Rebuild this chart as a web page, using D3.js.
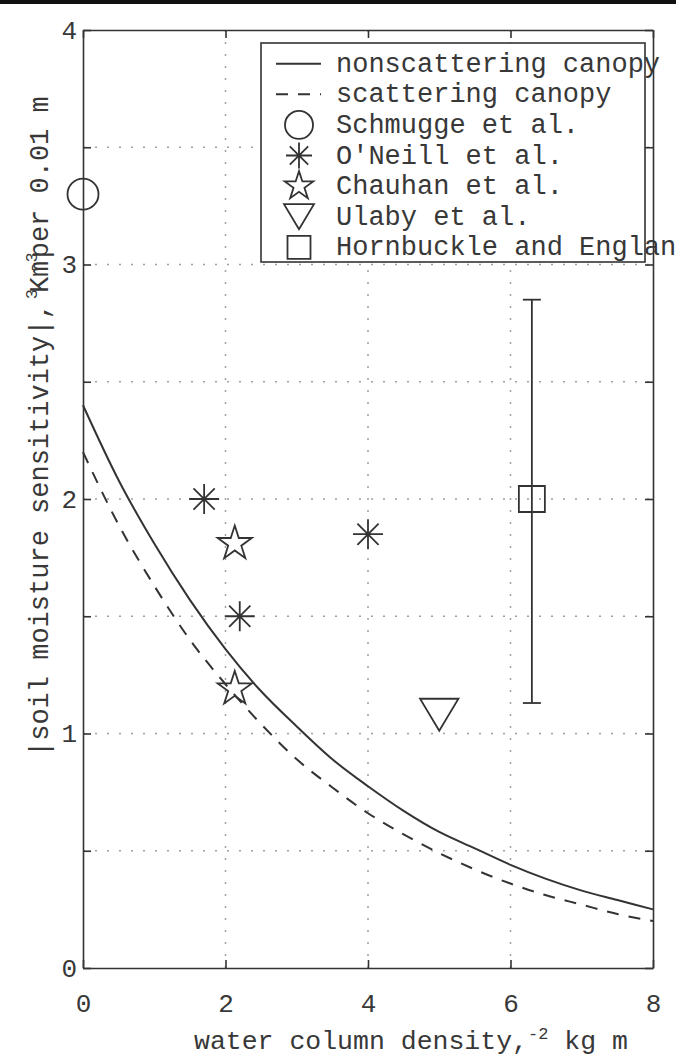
<!DOCTYPE html>
<html>
<head>
<meta charset="utf-8">
<script src="https://cdn.jsdelivr.net/npm/d3@7"></script>
<style>
  html, body { margin: 0; padding: 0; background: #ffffff; }
  svg { display: block; }
  text { font-family: "Liberation Mono", "DejaVu Sans Mono", monospace; fill: #383838; }
</style>
</head>
<body>
<svg id="chart" width="676" height="1057"></svg>
<script>
// ---------- data ----------
const xTickValues = [0, 2, 4, 6, 8];
const yTickValues = [0, 0.5, 1, 1.5, 2, 2.5, 3, 3.5, 4];
const yGridValues = [0.5, 1, 1.5, 2, 2.5, 3, 3.5];
const xGridValues = [2, 4, 6];

const curveX        = [0, 0.5, 1, 1.5, 2, 2.5, 3, 3.5, 4, 4.5, 5, 5.5, 6, 6.5, 7, 7.5, 8];
const nonscattering = [2.40, 2.08, 1.81, 1.57, 1.36, 1.18, 1.03, 0.89, 0.775, 0.67, 0.58, 0.51, 0.44, 0.38, 0.33, 0.29, 0.25];
const scattering    = [2.20, 1.89, 1.63, 1.40, 1.21, 1.04, 0.89, 0.77, 0.66, 0.57, 0.49, 0.42, 0.36, 0.31, 0.27, 0.23, 0.20];

const schmuggeX = [0];    const schmuggeY = [3.3];
const oneillX   = [1.7, 2.2, 4.0]; const oneillY = [2.0, 1.5, 1.85];
const chauhanX  = [2.13, 2.13];    const chauhanY = [1.81, 1.19];
const ulabyX    = [5.0];  const ulabyY = [1.08];
const hornX     = [6.3];  const hornY = [2.0];
const hornLow   = [1.13]; const hornHigh = [2.85];

const legendLabels = ["nonscattering canopy", "scattering canopy", "Schmugge et al.",
  "O'Neill et al.", "Chauhan et al.", "Ulaby et al.", "Hornbuckle and England"];
const legendKinds = ["solid", "dashed", "circle", "asterisk", "star", "triangle", "square"];

const xLabel = "water column density,";
const xLabelSup = "-2";
const xLabelTail = " kg m";

// ---------- setup ----------
const svg = d3.select("#chart");
const INK = "#333";
svg.append("rect").attr("x", 0).attr("y", 0).attr("width", 676).attr("height", 1057).attr("fill", "#fff");
svg.append("rect").attr("x", 0).attr("y", 0).attr("width", 676).attr("height", 4).attr("fill", "#111");

const x = d3.scaleLinear().domain([0, 8]).range([83, 653]);
const y = d3.scaleLinear().domain([0, 4]).range([968, 30]);

// grid
const grid = svg.append("g").attr("stroke", "#a0a0a0").attr("stroke-width", 1.5).attr("stroke-dasharray", "2,10");
grid.selectAll("line.h").data(yGridValues).join("line").attr("class", "h")
  .attr("x1", x(0)).attr("x2", x(8)).attr("y1", d => y(d)).attr("y2", d => y(d));
grid.selectAll("line.v").data(xGridValues).join("line").attr("class", "v")
  .attr("y1", y(0)).attr("y2", y(4)).attr("x1", d => x(d)).attr("x2", d => x(d));

// axes
function styleAxis(g) {
  g.selectAll("path.domain").attr("stroke", INK).attr("stroke-width", 1.6);
  g.selectAll(".tick line").attr("stroke", INK).attr("stroke-width", 1.6);
  g.selectAll(".tick text").attr("font-family", "Liberation Mono, monospace").attr("font-size", 26).attr("fill", "#383838");
}
const fmt = d => Number.isInteger(d) ? String(d) : "";
svg.append("g").attr("transform", `translate(0,${y(0)})`)
  .call(d3.axisBottom(x).tickValues(xTickValues).tickSize(-8).tickSizeOuter(0).tickPadding(26).tickFormat(fmt))
  .call(styleAxis);
svg.append("g").attr("transform", `translate(0,${y(4)})`)
  .call(d3.axisTop(x).tickValues(xTickValues).tickSize(-8).tickSizeOuter(0).tickFormat(""))
  .call(styleAxis);
svg.append("g").attr("transform", `translate(${x(0)},0)`)
  .call(d3.axisLeft(y).tickValues(yTickValues).tickSize(-8).tickSizeOuter(0).tickPadding(6).tickFormat(fmt))
  .call(styleAxis);
svg.append("g").attr("transform", `translate(${x(8)},0)`)
  .call(d3.axisRight(y).tickValues(yTickValues).tickSize(-8).tickSizeOuter(0).tickFormat(""))
  .call(styleAxis);

// curves
const line = d3.line().x(d => x(d[0])).y(d => y(d[1])).curve(d3.curveMonotoneX);
svg.append("path").datum(curveX.map((v, i) => [v, nonscattering[i]]))
  .attr("d", line).attr("fill", "none").attr("stroke", INK).attr("stroke-width", 2);
svg.append("path").datum(curveX.map((v, i) => [v, scattering[i]]))
  .attr("d", line).attr("fill", "none").attr("stroke", INK).attr("stroke-width", 2)
  .attr("stroke-dasharray", "12,10");

// marker shapes
function markerPath(kind, s) {
  const p = d3.path();
  if (kind === "circle") { p.moveTo(s, 0); p.arc(0, 0, s, 0, 2 * Math.PI); }
  else if (kind === "asterisk") {
    const a = s * Math.SQRT1_2;
    p.moveTo(0, -s); p.lineTo(0, s); p.moveTo(-s, 0); p.lineTo(s, 0);
    p.moveTo(-a, -a); p.lineTo(a, a); p.moveTo(-a, a); p.lineTo(a, -a);
  } else if (kind === "star") {
    const r = s * 0.382;
    for (let i = 0; i < 10; i++) {
      const ang = -Math.PI / 2 + i * Math.PI / 5;
      const rr = i % 2 === 0 ? s : r;
      const px = rr * Math.cos(ang), py = rr * Math.sin(ang);
      if (i === 0) p.moveTo(px, py); else p.lineTo(px, py);
    }
    p.closePath();
  } else if (kind === "triangle") {
    const w = s * 1.2, h = s;
    p.moveTo(-w / 2, -h / 2); p.lineTo(w / 2, -h / 2); p.lineTo(0, h / 2); p.closePath();
  } else if (kind === "square") {
    p.rect(-s / 2, -s / 2, s, s);
  }
  return p.toString();
}
function drawMarkers(xs, ys, kind, size) {
  svg.append("g").selectAll("path").data(xs.map((v, i) => [v, ys[i]])).join("path")
    .attr("transform", d => `translate(${x(d[0])},${y(d[1])})`)
    .attr("d", markerPath(kind, size))
    .attr("fill", "none").attr("stroke", INK).attr("stroke-width", 1.8);
}

// error bar
const eb = svg.append("g").attr("stroke", INK).attr("stroke-width", 1.8);
hornX.forEach((hx, i) => {
  eb.append("line").attr("x1", x(hx)).attr("x2", x(hx)).attr("y1", y(hornLow[i])).attr("y2", y(hornHigh[i]));
  eb.append("line").attr("x1", x(hx) - 9).attr("x2", x(hx) + 9).attr("y1", y(hornLow[i])).attr("y2", y(hornLow[i]));
  eb.append("line").attr("x1", x(hx) - 9).attr("x2", x(hx) + 9).attr("y1", y(hornHigh[i])).attr("y2", y(hornHigh[i]));
});

drawMarkers(schmuggeX, schmuggeY, "circle", 15.5);
drawMarkers(oneillX, oneillY, "asterisk", 15);
drawMarkers(chauhanX, chauhanY, "star", 18);
drawMarkers(ulabyX, ulabyY, "triangle", 32);
drawMarkers(hornX, hornY, "square", 26);

// legend
const lg = svg.append("g");
lg.append("rect").attr("x", 261).attr("y", 43).attr("width", 384).attr("height", 219)
  .attr("fill", "#fff").attr("stroke", INK).attr("stroke-width", 1.6);
const legendSizes = { circle: 14, asterisk: 13, star: 15, triangle: 25, square: 23 };
legendLabels.forEach((lab, i) => {
  const cy = 63.7 + i * 30.6;
  const kind = legendKinds[i];
  if (kind === "solid" || kind === "dashed") {
    lg.append("line").attr("x1", 276).attr("x2", 321).attr("y1", cy).attr("y2", cy)
      .attr("stroke", INK).attr("stroke-width", 2)
      .attr("stroke-dasharray", kind === "dashed" ? "12,10" : null);
  } else {
    lg.append("path").attr("transform", `translate(299,${cy})`)
      .attr("d", markerPath(kind, legendSizes[kind]))
      .attr("fill", "none").attr("stroke", INK).attr("stroke-width", 1.8);
  }
  lg.append("text").attr("x", 336).attr("y", cy + 8).attr("font-size", 27).text(lab);
});

// x label
const xl = svg.append("text").attr("x", 194).attr("y", 1049).attr("font-size", 26.5);
xl.append("tspan").text(xLabel);
xl.append("tspan").attr("font-size", 17).attr("dy", -10).text(xLabelSup);
xl.append("tspan").attr("dy", 10).text(xLabelTail);

// y label
const yl = svg.append("text").attr("transform", "translate(48,757) rotate(-90)").attr("font-size", 27);
yl.append("tspan").text("|soil moisture sensitivity|,");
yl.append("tspan").attr("font-size", 17).attr("dy", -11).attr("dx", 4).text("3");
yl.append("tspan").attr("dy", 11).attr("dx", -4).text("Km");
yl.append("tspan").attr("font-size", 17).attr("dy", -11).attr("dx", -12).text("-3");
yl.append("tspan").attr("dy", 11).attr("dx", -6).text("per 0.01 m");
</script>
</body>
</html>
